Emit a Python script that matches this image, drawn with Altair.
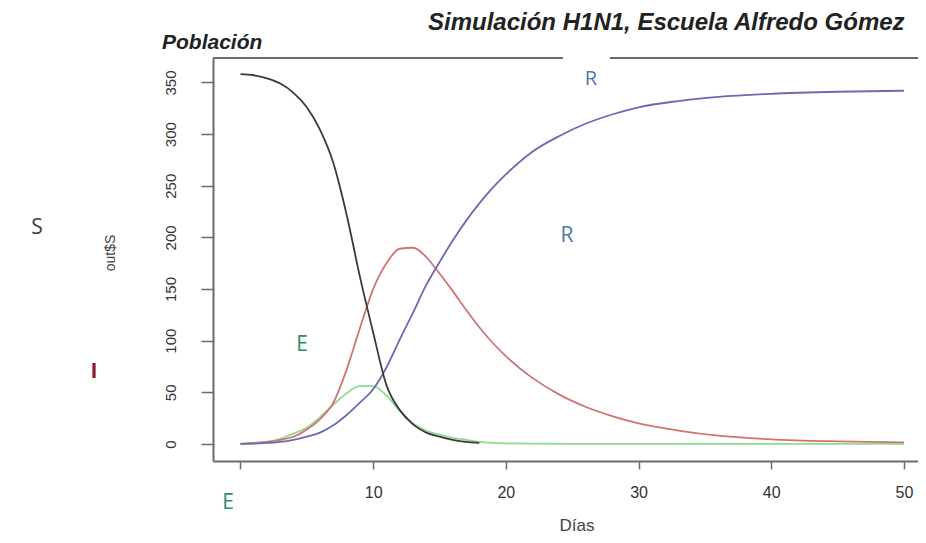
import altair as alt
import pandas as pd

# ---- data ----
DAYS = [0, 1, 2, 3, 4, 5, 6, 7, 8, 9, 10, 11, 12, 13, 14, 15, 16, 17, 18, 19, 20,
        22, 24, 26, 28, 30, 33, 36, 40, 45, 50]
S_VALUES = [358, 357, 354, 349, 340, 326, 304, 272, 222, 162, 108, 57, 33, 19, 11, 7, 4, 2, 1,
            None, None, None, None, None, None, None, None, None, None, None, None]
E_VALUES = [0, 1, 2, 5, 10, 16, 26, 38, 49, 56, 56, 47, 32, 20, 13, 9, 6, 4, 2, 1, 0.5,
            0.3, 0.2, 0.1, 0.1, 0, 0, 0, 0, 0, 0]
I_VALUES = [0, 1, 2, 4, 7, 14, 24, 40, 72, 112, 150, 175, 189, 190, 181, 165, 148, 130, 113, 98, 85,
            64, 48, 36, 27, 20, 13, 8, 4.5, 2.5, 1.5]
R_VALUES = [0, 0.3, 1, 2, 4, 7, 11, 18, 28, 40, 53, 74, 101, 127, 154, 176, 197, 216, 233, 248, 261,
            283, 298, 310, 319, 326, 332, 336, 339, 341, 342]

SERIES = ["E", "I", "R", "S"]
SERIES_VALUES = {"S": S_VALUES, "E": E_VALUES, "I": I_VALUES, "R": R_VALUES}
SERIES_COLORS = {"S": "#3a3a3a", "E": "#8fdc8f", "I": "#d27272", "R": "#6a6ab4"}

X_TICKS = [0, 10, 20, 30, 40, 50]
Y_TICKS = [0, 50, 100, 150, 200, 250, 300, 350]

TITLE = "Simulación H1N1, Escuela Alfredo Gómez"
SUBTITLE = "Población"
X_TITLE = "Días"
Y_TITLE = "out$S"

rows = []
for name in SERIES:
    for d, v in zip(DAYS, SERIES_VALUES[name]):
        if v is not None:
            rows.append({"day": d, "value": v, "series": name})
df = pd.DataFrame(rows)

W, H = 705, 403
AXIS_COLOR = "#6b6b6b"
LABEL_COLOR = "#333333"

x_enc = alt.X(
    "day:Q",
    scale=alt.Scale(domain=[-2.07, 51.06], nice=False, zero=False),
    axis=alt.Axis(
        values=X_TICKS, labelExpr="datum.value == 0 ? '' : datum.label",
        title=None, grid=False, tickSize=8, tickWidth=1.5, tickColor=AXIS_COLOR,
        domainColor=AXIS_COLOR, domainWidth=2, labelFont="Liberation Sans",
        labelFontSize=16, labelColor=LABEL_COLOR, labelPadding=15,
        labelFlush=False, labelOverlap=False,
    ),
)
y_enc = alt.Y(
    "value:Q",
    scale=alt.Scale(domain=[-16.5, 373.7], nice=False, zero=False),
    axis=alt.Axis(
        values=Y_TICKS, title=None, grid=False, tickSize=12, tickWidth=1.5,
        tickColor=AXIS_COLOR, domainColor=AXIS_COLOR, domainWidth=2,
        labelFont="Liberation Sans", labelFontSize=15, labelColor=LABEL_COLOR,
        labelAngle=270, labelAlign="center", labelBaseline="middle",
        labelPadding=31, labelFlush=False, labelOverlap=False,
    ),
)

layers = []
for name in SERIES:
    layers.append(
        alt.Chart(df)
        .transform_filter(alt.datum.series == name)
        .mark_line(color=SERIES_COLORS[name], strokeWidth=1.8, interpolate="monotone")
        .encode(x=x_enc, y=y_enc)
    )

one = pd.DataFrame({"k": [0]})


def label(text, x, y, size, color, font="Open Sans", weight="normal", style="normal",
          align="center", angle=0):
    return alt.Chart(one).mark_text(
        text=text, fontSize=size, color=color, font=font, fontWeight=weight,
        fontStyle=style, align=align, baseline="middle", angle=angle,
    ).encode(x=alt.value(x), y=alt.value(y))


# top border of the box, interrupted where the "R" label was pasted
border = [
    alt.Chart(one).mark_rule(color=AXIS_COLOR, strokeWidth=2).encode(
        x=alt.value(0), x2=alt.value(350), y=alt.value(0)),
    alt.Chart(one).mark_rule(color=AXIS_COLOR, strokeWidth=2).encode(
        x=alt.value(397), x2=alt.value(W), y=alt.value(0)),
]

texts = [
    label(TITLE, 215, -35, 24, "#222222", font="Liberation Sans", weight="bold",
          style="italic", align="left"),
    label(SUBTITLE, -51, -15, 21, "#222222", font="Liberation Sans", weight="bold",
          style="italic", align="left"),
    label(X_TITLE, 364, 468, 17, "#444444", font="Liberation Sans"),
    label(Y_TITLE, -102, 195, 14, "#444444", font="Liberation Sans", angle=270),
    label("S", -176, 170, 21, "#3a3a3a"),
    label("I", -119, 314, 21, "#8b1c2c", weight="bold"),
    label("E", 89, 287, 21, "#2f8f66"),
    label("R", 354, 178, 21, "#4d78ad"),
    label("R", 378, 21, 20, "#4d78ad"),
    label("E", 15, 445, 21, "#2f8f66"),
]

chart = (
    alt.layer(*layers, *border, *texts)
    .properties(
        width=W, height=H,
        padding={"left": 205, "top": 50, "right": 0, "bottom": 74},
        autosize=alt.AutoSizeParams(type="none"),
        background="white",
    )
    .configure_view(stroke=None)
)

chart.save("out.html", embed_options={"renderer": "svg", "actions": False})
